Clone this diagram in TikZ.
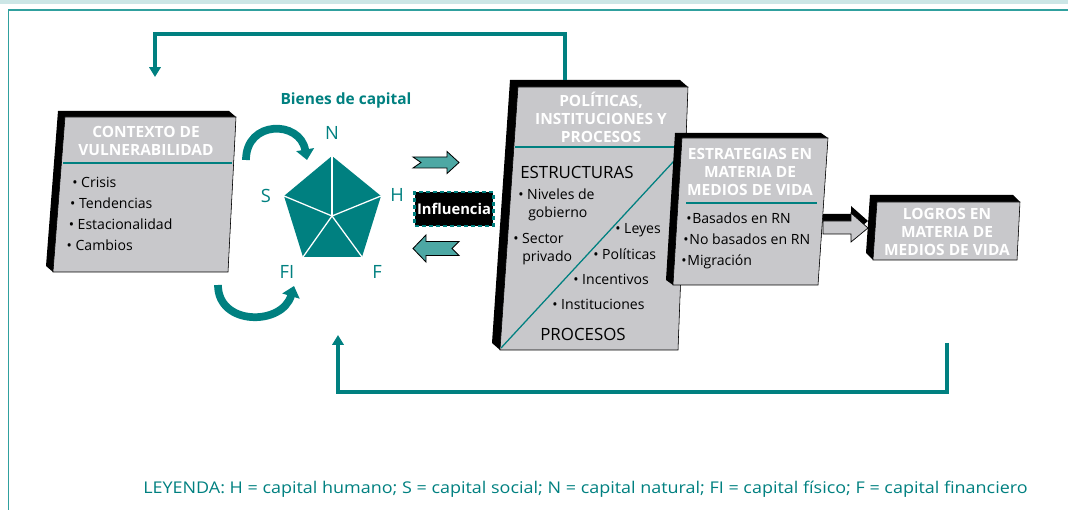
\documentclass[tikz,border=0pt]{standalone}
\usepackage{graphicx}
\usepackage{fontspec}
\setmainfont{Open Sans}
\usetikzlibrary{arrows.meta, shapes.geometric, positioning, calc}
\definecolor{teal0}{RGB}{0,128,128}
\definecolor{tealarrow}{RGB}{77,168,164}
\definecolor{boxgray}{RGB}{200,200,203}
\definecolor{bandteal}{RGB}{204,230,230}
\definecolor{frameteal}{RGB}{48,160,158}

\begin{document}
\begin{tikzpicture}[x=0.025cm, y=-0.025cm, node distance=5pt]
        \tikzstyle{boxdepth}=[fill=black];
        \tikzstyle{boxface}=[fill=boxgray, draw=black, line width=0.4pt];
        \tikzstyle{boxtitle}=[text=white, font=\bfseries\fontsize{11}{12.8}\selectfont, align=center, inner sep=0];
        \tikzstyle{bullet}=[anchor=west, inner sep=0, text height=7.4pt, text depth=2pt, font=\fontsize{10}{12}\selectfont];
        \tikzstyle{bigword}=[anchor=west, inner sep=0, font=\fontsize{12}{14}\selectfont];
        \tikzstyle{tealrule}=[draw=teal0, line width=1.2pt];
        \tikzstyle{feedback}=[draw=teal0, line width=2.6pt, -{Triangle[length=7pt, width=8pt]}];
        \tikzstyle{giro}=[draw=teal0, line width=5.5pt, -{Triangle[length=7.5pt, width=12.5pt]}];
        \tikzstyle{blockarrow}=[fill=tealarrow, draw=black, line width=0.6pt];
        \tikzstyle{letra}=[text=teal0, inner sep=0, font=\fontsize{13}{15}\selectfont];
        \tikzstyle{influ}=[fill=black, draw=teal0, line width=1.8pt, dash pattern=on 3pt off 2pt, text=white, font=\bfseries\fontsize{10.5}{12}\selectfont, minimum width=1.97cm, minimum height=0.84cm, inner sep=1pt];

        \useasboundingbox (0,0) rectangle (1068,510);
        \fill[bandteal] (0,0) rectangle (1068,4.5);
        \draw[frameteal, line width=1.4pt] (8.5,510) -- (8.5,10) -- (1068,10);

        \fill[boxdepth] (58,111) -- (229,111) -- (236,117) -- (228,272) -- (53,272) -- (46,266) -- cycle;
        \draw[boxface] (65,117) -- (236,117) -- (228,272) -- (53,272) -- cycle;
        \node[boxtitle] (ctxtitle) at (146,140.5) {CONTEXTO DE\\VULNERABILIDAD};
        \draw[tealrule] (63,163) -- (232,163);
        \node[bullet] (crisis) at (72,184) {• Crisis};
        \node[bullet, below=of crisis.south west, anchor=north west, xshift=-1.5pt] (tend) {• Tendencias};
        \node[bullet, below=of tend.south west, anchor=north west, xshift=-1pt] (estac) {• Estacionalidad};
        \node[bullet, below=of estac.south west, anchor=north west, xshift=-1.5pt] (camb) {• Cambios};

        \node[text=teal0, font=\bfseries\fontsize{11}{12}\selectfont] (bienes) at (346,100) {Bienes de capital};
        \coordinate (pc) at (332,216);
        \coordinate (vN) at (332,156);
        \coordinate (vH) at (381,196);
        \coordinate (vF) at (362,257);
        \coordinate (vFI) at (303,257);
        \coordinate (vS) at (284,196);
        \fill[teal0] (vN) -- (vH) -- (vF) -- (vFI) -- (vS) -- cycle;
        \foreach \v in {vN,vH,vF,vFI,vS}
          \draw[white, line width=0.9pt] (pc) -- (\v);
        \node[letra] (capN) at (332,133) {N};
        \node[letra] (capH) at (397,195) {H};
        \node[letra] (capF) at (377,272) {F};
        \node[letra] (capFI) at (287,272) {FI};
        \node[letra] (capS) at (266,196) {S};

        \draw[giro] (246,160) .. controls (246,120) and (300,120) .. (307,160);
        \draw[giro] (218,285) .. controls (218,326) and (282,326) .. (294,286);

        \draw[blockarrow] (413,157) -- (447,157) -- (447,151.5) -- (459,162.5) -- (447,173.5) -- (447,168) -- (413,168) -- (421,162.5) -- cycle;
        \node[influ] (influ) at (454,209) {Influencia};
        \draw[blockarrow] (459,241.5) -- (426,241.5) -- (426,235) -- (413,248.5) -- (426,262) -- (426,255.5) -- (459,255.5) -- (452,248.5) -- cycle;

        \fill[boxdepth] (510,80) -- (680,80) -- (688,87) -- (678,350) -- (500,350) -- (492,343) -- cycle;
        \draw[boxface] (518,87) -- (688,87) -- (678,350) -- (500,350) -- cycle;
        \node[boxtitle] (poltitle) at (601,117.5) {POLÍTICAS,\\INSTITUCIONES Y\\PROCESOS};
        \draw[tealrule] (515,147) -- (686,147);
        \draw[tealrule, line width=0.9pt] (501,348) -- (686,148);
        \node[bigword] (estruct) at (520,172) {ESTRUCTURAS};
        \node[bullet] (niveles) at (518,196) {• Niveles de};
        \node[bullet] (gob) at (528,214) {gobierno};
        \node[bullet] (sector) at (513,240) {• Sector};
        \node[bullet] (priv) at (522,258) {privado};
        \node[bullet] (leyes) at (615,230) {• Leyes};
        \node[bullet] (polit) at (593,256) {• Políticas};
        \node[bullet] (incent) at (573,281) {• Incentivos};
        \node[bullet] (instit) at (552,306) {• Instituciones};
        \node[bigword] (proces) at (540,334) {PROCESOS};

        \fill[boxdepth] (675,133) -- (821,133) -- (828,138) -- (818,285) -- (673,285) -- (666,280) -- cycle;
        \draw[boxface] (682,138) -- (828,138) -- (818,285) -- (673,285) -- cycle;
        \node[boxtitle] (esttitle) at (750,172) {ESTRATEGIAS EN\\MATERIA DE\\MEDIOS DE VIDA};
        \draw[tealrule] (686,203) -- (817,203);
        \node[bullet] (basados) at (686,220) {•\kern0.5pt Basados en RN};
        \node[bullet, below=of basados.south west, anchor=north west, xshift=-2pt] (nobas) {•\kern0.5pt No basados en RN};
        \node[bullet, below=of nobas.south west, anchor=north west, xshift=-1.5pt] (migr) {•\kern0.5pt Migración};

        \fill[boxdepth] (823,214) -- (851,214) -- (851,206) -- (868,221) -- (851,235) -- (851,227) -- (823,227) -- cycle;
        \draw[boxface, line width=0.5pt] (823,221) -- (851,221) -- (851,213) -- (868,228) -- (851,242) -- (851,234) -- (823,234) -- cycle;

        \fill[boxdepth] (870,195) -- (1013,195) -- (1020,202) -- (1017,260) -- (873,260) -- (866,253) -- cycle;
        \draw[boxface] (877,202) -- (1020,202) -- (1017,260) -- (873,260) -- cycle;
        \node[boxtitle] (logtitle) at (947,231.5) {LOGROS EN\\MATERIA DE\\MEDIOS DE VIDA};

        \coordinate (poltop) at (565,80);
        \coordinate (ctxin) at (155,77);
        \coordinate (logbot) at (947,343);
        \coordinate (pentin) at (338,335);
        \draw[feedback] (poltop) -- ++(0,-46) -| (ctxin);
        \draw[feedback] (logbot) -- ++(0,49) -| (pentin);

        \node[text=teal0, font=\fontsize{11.5}{13}\selectfont] (leyenda) at (585.5,489) {\scalebox{1.11}[1]{LEYENDA: H = capital humano; S = capital social; N = capital natural; FI = capital físico; F = capital financiero}};
\end{tikzpicture}
\end{document}
